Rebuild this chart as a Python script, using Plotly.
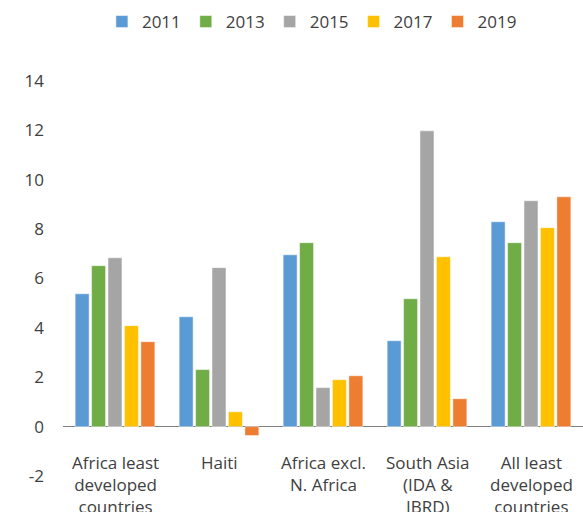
import plotly.graph_objects as go

categories = ["Africa least<br>developed<br>countries", "Haiti", "Africa excl.<br>N. Africa",
              "South Asia<br>(IDA &<br>IBRD)", "All least<br>developed<br>countries"]
series_names = ["2011", "2013", "2015", "2017", "2019"]
v2011 = [5.38, 4.45, 6.96, 3.48, 8.30]
v2013 = [6.52, 2.31, 7.45, 5.18, 7.45]
v2015 = [6.84, 6.44, 1.58, 11.98, 9.15]
v2017 = [4.09, 0.60, 1.90, 6.88, 8.06]
v2019 = [3.44, -0.36, 2.06, 1.13, 9.31]
colors = ["#5B9BD5", "#70AD47", "#A5A5A5", "#FFC000", "#ED7D31"]
y_ticks = [-2, 0, 2, 4, 6, 8, 10, 12, 14]
y_tick_text = ["-2", "0", "2", "4", "6", "8", "10", "12", "14"]

FONT = "Open Sans"
fig = go.Figure()
for name, vals, col in zip(series_names, [v2011, v2013, v2015, v2017, v2019], colors):
    fig.add_trace(go.Bar(x=categories, y=vals, name=name, marker=dict(color=col, line=dict(color="rgba(255,255,255,0.6)", width=0.8))))

for c in categories:
    fig.add_annotation(x=c, y=0, xref="x", yref="y", text=c, showarrow=False,
                       yanchor="top", yshift=-22, font=dict(family=FONT, size=17, color="#404040"))

fig.update_layout(
    width=583, height=512,
    margin=dict(l=63, r=0, t=81, b=36),
    paper_bgcolor="white", plot_bgcolor="white",
    barmode="group", bargap=0.21, bargroupgap=0.15,
    font=dict(family=FONT, size=17, color="#404040"),
    showlegend=True,
    legend=dict(orientation="h", xref="container", yref="container", x=0.535, xanchor="center",
                y=1 - 22 / 512, yanchor="middle", font=dict(size=17, color="#404040"),
                itemwidth=30, traceorder="normal"),
    xaxis=dict(showticklabels=False, showline=False, showgrid=False, zeroline=False),
    yaxis=dict(range=[-2, 14], tickvals=y_ticks, ticktext=y_tick_text, showgrid=False, showline=False,
               zeroline=True, zerolinecolor="#808080", zerolinewidth=1,
               ticks="", ticklabelstandoff=18, tickfont=dict(size=17, color="#404040")),
)
fig.write_html("out.html")
